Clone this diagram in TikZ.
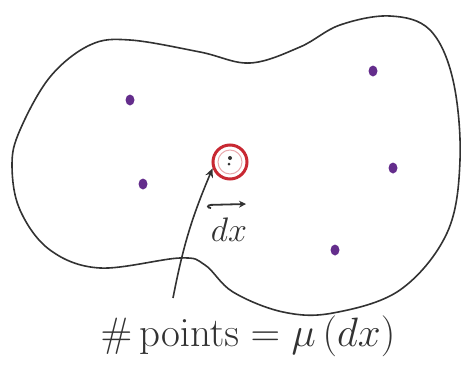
\RequirePackage{fix-cm}
\documentclass[tikz,border=0pt]{standalone}
\usetikzlibrary{arrows.meta}
\definecolor{ink}{RGB}{50,50,50}
\definecolor{dotc}{RGB}{100,45,140}
\definecolor{redc}{RGB}{200,40,50}
\tikzset{
  outline/.style={ink, line width=1.6pt, line join=round},
  lbl/.style={ink, inner sep=0pt},
}
\begin{document}
\begin{tikzpicture}[x=1pt,y=-1pt]
\useasboundingbox (0,0) rectangle (461,367);
\draw[outline] plot[smooth cycle, tension=0.6] coordinates {
 (90,45) (130,40) (200,52) (250,63) (300,47) (340,25) (390,16) (430,30)
 (453,80) (460,160) (447,233) (400,290) (333,313) (283,312) (233,292)
 (205,265) (180,258) (100,268) (50,250) (20,210) (12,165) (20,130) (50,77)};
% points
\foreach \x/\y in {130/100, 143/184, 373/71, 393/168, 335/250}
  \fill[dotc] (\x,\y) ellipse (4.5 and 5.5);
% small ball
\node[draw=redc, line width=3pt, circle, minimum size=34pt, inner sep=0pt] (ball) at (230,162) {};
\draw[redc!40, line width=1pt] (ball.center) circle (12);
\fill[ink] (230,158) circle (2);
\fill[ink] (229,164) circle (1.5);
% dx arrow
\coordinate (dxl) at (207,205);
\coordinate (dxr) at (246,204);
\draw[ink, line width=1.8pt, {Hooks[left,length=4pt,width=8pt]}-{Stealth[length=7pt,width=7pt]}] (dxl) -- (dxr);
\node[lbl, font=\fontsize{34}{40}\selectfont] (dx) at (229,230) {$dx$};
% label
\node[lbl, font=\fontsize{41}{48}\selectfont] (lab) at (248,336) {$\#\,\mathrm{points} = \mu\,(dx)$};
\coordinate (tail) at (173,298);
\draw[ink, line width=1.6pt, -{Stealth[length=9pt,width=8pt]}] (tail) to[bend left=6] (ball.200);
\end{tikzpicture}
\end{document}
